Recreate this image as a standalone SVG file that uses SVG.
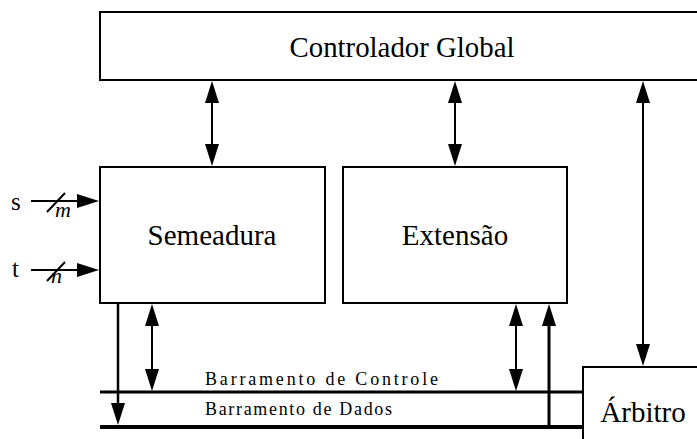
<svg xmlns="http://www.w3.org/2000/svg" xmlns:xlink="http://www.w3.org/1999/xlink" width="697" height="439" viewBox="0 0 697 439">
<style>
.box{fill:#fff;stroke:#000;stroke-width:2}
.ln{stroke:#000;stroke-width:2;fill:none}
.hd{fill:#000}
</style>
<defs>
<path id="up" d="M0,0 L-7,22 L7,22 z"/>
</defs>
<g id="controlador">
<rect class="box" x="100" y="12" width="620" height="68"/>
<text font-family="Liberation Serif" font-size="29" text-anchor="middle" x="402" y="57" textLength="225" lengthAdjust="spacingAndGlyphs">Controlador Global</text>
</g>
<g id="semeadura">
<rect class="box" x="100" y="167" width="225" height="136"/>
<text font-family="Liberation Serif" font-size="29" text-anchor="middle" x="212" y="245">Semeadura</text>
</g>
<g id="extensao">
<rect class="box" x="343" y="167" width="224" height="136"/>
<text font-family="Liberation Serif" font-size="29" text-anchor="middle" x="455" y="245">Extensão</text>
</g>
<g id="arbitro">
<rect class="box" x="583" y="367" width="130" height="90"/>
<text font-family="Liberation Serif" font-size="29" text-anchor="middle" x="643" y="422">Árbitro</text>
</g>
<g id="inputs">
<text font-family="Liberation Serif" font-size="25" x="11" y="210">s</text>
<text font-family="Liberation Serif" font-size="25" x="12" y="277">t</text>
<text font-family="Liberation Serif" font-size="22" font-style="italic" x="55" y="217">m</text>
<text font-family="Liberation Serif" font-size="22" font-style="italic" x="51" y="283">n</text>
</g>
<g id="buses">
<line x1="100" y1="392" x2="583" y2="392" stroke="#000" stroke-width="3"/>
<line x1="100" y1="427" x2="583" y2="427" stroke="#000" stroke-width="4"/>
<text font-family="Liberation Serif" font-size="18" x="205" y="385" textLength="233" lengthAdjust="spacing">Barramento de Controle</text>
<text font-family="Liberation Serif" font-size="18" x="205" y="415" textLength="187" lengthAdjust="spacing">Barramento de Dados</text>
</g>
<g id="connectors">
<line class="ln" x1="212" y1="100" x2="212" y2="147"/>
<use class="hd" xlink:href="#up" href="#up" transform="translate(212,81)"/>
<use class="hd" xlink:href="#up" href="#up" transform="translate(212,166) rotate(180)"/>
<line class="ln" x1="455" y1="100" x2="455" y2="147"/>
<use class="hd" xlink:href="#up" href="#up" transform="translate(455,81)"/>
<use class="hd" xlink:href="#up" href="#up" transform="translate(455,166) rotate(180)"/>
<line class="ln" x1="643" y1="100" x2="643" y2="347"/>
<use class="hd" xlink:href="#up" href="#up" transform="translate(643,81)"/>
<use class="hd" xlink:href="#up" href="#up" transform="translate(643,366) rotate(180)"/>
<line class="ln" x1="152" y1="323" x2="152" y2="372"/>
<use class="hd" xlink:href="#up" href="#up" transform="translate(152,304)"/>
<use class="hd" xlink:href="#up" href="#up" transform="translate(152,391) rotate(180)"/>
<line class="ln" x1="516" y1="323" x2="516" y2="372"/>
<use class="hd" xlink:href="#up" href="#up" transform="translate(516,304)"/>
<use class="hd" xlink:href="#up" href="#up" transform="translate(516,391) rotate(180)"/>
<line x1="549" y1="427" x2="549" y2="323" stroke="#000" stroke-width="3"/>
<use class="hd" xlink:href="#up" href="#up" transform="translate(549,304)"/>
<line x1="118" y1="303" x2="118" y2="406" stroke="#000" stroke-width="2.5"/>
<use class="hd" xlink:href="#up" href="#up" transform="translate(118,425) rotate(180)"/>
<line class="ln" x1="31" y1="201" x2="80" y2="201"/>
<use class="hd" xlink:href="#up" href="#up" transform="translate(99,201) rotate(90)"/>
<line class="ln" x1="31" y1="270" x2="80" y2="270"/>
<use class="hd" xlink:href="#up" href="#up" transform="translate(99,270) rotate(90)"/>
<line class="ln" x1="47" y1="212" x2="65" y2="193"/>
<line class="ln" x1="47" y1="281" x2="65" y2="262"/>
</g>
</svg>
